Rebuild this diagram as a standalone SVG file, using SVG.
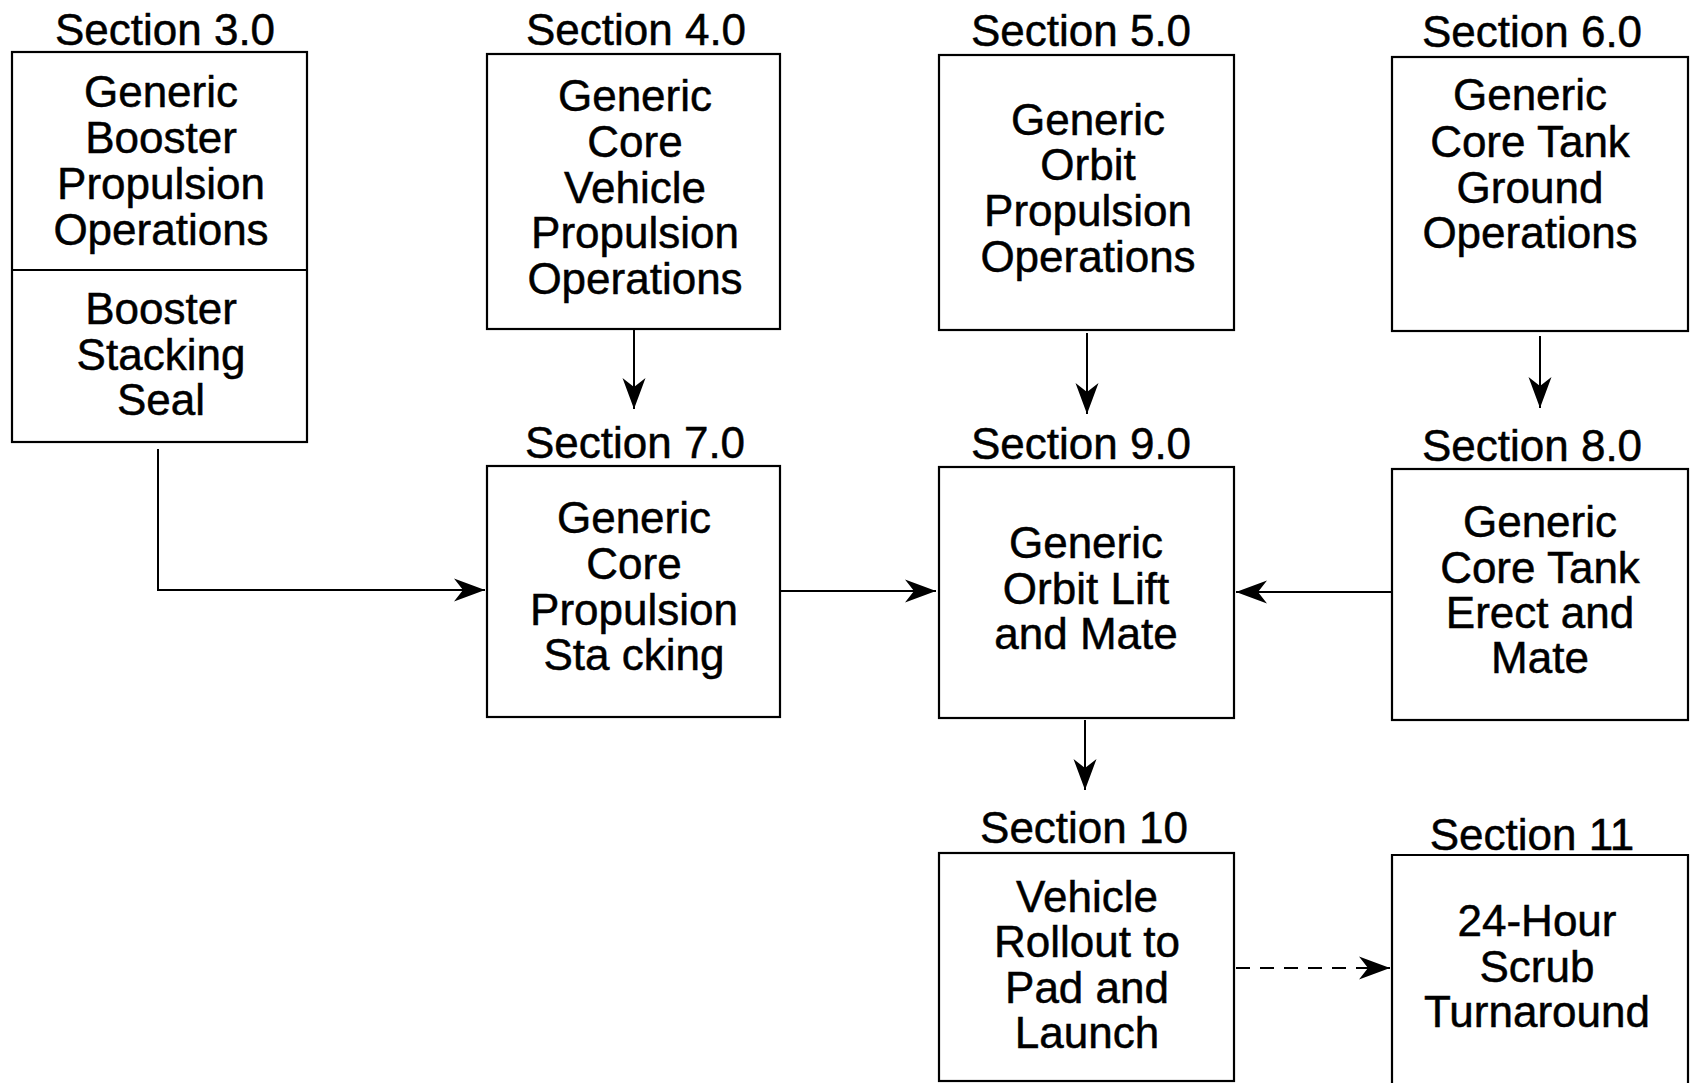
<svg xmlns="http://www.w3.org/2000/svg" width="1690" height="1083" viewBox="0 0 1690 1083">
  <defs>
    <style>
      .box { fill: #fff; stroke: #000; stroke-width: 2.2; }
      .line { fill: none; stroke: #000; stroke-width: 2; }
      .dash { stroke-dasharray: 14 10; }
      text { font-family: "Liberation Sans", Arial, Helvetica, sans-serif; font-size: 44px; fill: #000; stroke: #000; stroke-width: 0.5; text-anchor: middle; }
    </style>
    <marker id="arrow" markerUnits="userSpaceOnUse" markerWidth="34" markerHeight="26" viewBox="-32 -13 34 26" refX="0" refY="0" orient="auto">
      <path d="M0,0 L-31,-11.5 L-22,0 L-31,11.5 Z" fill="#000"/>
    </marker>
  </defs>
  <rect width="1690" height="1083" fill="#fff"/>

  <!-- Section 3.0 -->
  <g id="sec3">
    <text x="165" y="45">Section 3.0</text>
    <rect class="box" x="12" y="52" width="295" height="390"/>
    <line class="line" x1="12" y1="270" x2="307" y2="270"/>
    <text x="161" y="107">Generic</text>
    <text x="161" y="153">Booster</text>
    <text x="161" y="199">Propulsion</text>
    <text x="161" y="245">Operations</text>
    <text x="161" y="324">Booster</text>
    <text x="161" y="370">Stacking</text>
    <text x="161" y="415">Seal</text>
  </g>

  <!-- Section 4.0 -->
  <g id="sec4">
    <text x="636" y="45">Section 4.0</text>
    <rect class="box" x="487" y="54" width="293" height="275"/>
    <text x="635" y="111">Generic</text>
    <text x="635" y="157">Core</text>
    <text x="635" y="203">Vehicle</text>
    <text x="635" y="248">Propulsion</text>
    <text x="635" y="294">Operations</text>
  </g>

  <!-- Section 5.0 -->
  <g id="sec5">
    <text x="1081" y="46">Section 5.0</text>
    <rect class="box" x="939" y="55" width="295" height="275"/>
    <text x="1088" y="135">Generic</text>
    <text x="1088" y="180">Orbit</text>
    <text x="1088" y="226">Propulsion</text>
    <text x="1088" y="272">Operations</text>
  </g>

  <!-- Section 6.0 -->
  <g id="sec6">
    <text x="1532" y="47">Section 6.0</text>
    <rect class="box" x="1392" y="57" width="296" height="274"/>
    <text x="1530" y="110">Generic</text>
    <text x="1530" y="157">Core Tank</text>
    <text x="1530" y="203">Ground</text>
    <text x="1530" y="248">Operations</text>
  </g>

  <!-- Section 7.0 -->
  <g id="sec7">
    <text x="635" y="458">Section 7.0</text>
    <rect class="box" x="487" y="466" width="293" height="251"/>
    <text x="634" y="533">Generic</text>
    <text x="634" y="579">Core</text>
    <text x="634" y="625">Propulsion</text>
    <text x="634" y="670">Sta cking</text>
  </g>

  <!-- Section 9.0 -->
  <g id="sec9">
    <text x="1081" y="459">Section 9.0</text>
    <rect class="box" x="939" y="467" width="295" height="251"/>
    <text x="1086" y="558">Generic</text>
    <text x="1086" y="604">Orbit Lift</text>
    <text x="1086" y="649">and Mate</text>
  </g>

  <!-- Section 8.0 -->
  <g id="sec8">
    <text x="1532" y="461">Section 8.0</text>
    <rect class="box" x="1392" y="469" width="296" height="251"/>
    <text x="1540" y="537">Generic</text>
    <text x="1540" y="583">Core Tank</text>
    <text x="1540" y="628">Erect and</text>
    <text x="1540" y="673">Mate</text>
  </g>

  <!-- Section 10 -->
  <g id="sec10">
    <text x="1084" y="843">Section 10</text>
    <rect class="box" x="939" y="853" width="295" height="228"/>
    <text x="1087" y="912">Vehicle</text>
    <text x="1087" y="957">Rollout to</text>
    <text x="1087" y="1003">Pad and</text>
    <text x="1087" y="1048">Launch</text>
  </g>

  <!-- Section 11 (runs off the lower edge) -->
  <g id="sec11">
    <text x="1532" y="850">Section 11</text>
    <path class="box" d="M1392,1090 L1392,855 L1688,855 L1688,1090"/>
    <text x="1537" y="936">24-Hour</text>
    <text x="1537" y="982">Scrub</text>
    <text x="1537" y="1027">Turnaround</text>
  </g>

  <!-- Connectors -->
  <g id="connectors">
    <polyline class="line" points="158,449 158,590 485,590" marker-end="url(#arrow)"/>
    <line class="line" x1="781" y1="591" x2="936" y2="591" marker-end="url(#arrow)"/>
    <line class="line" x1="1391" y1="592" x2="1236" y2="592" marker-end="url(#arrow)"/>
    <line class="line" x1="634" y1="329" x2="634" y2="409" marker-end="url(#arrow)"/>
    <line class="line" x1="1087" y1="333" x2="1087" y2="414" marker-end="url(#arrow)"/>
    <line class="line" x1="1540" y1="336" x2="1540" y2="408" marker-end="url(#arrow)"/>
    <line class="line" x1="1085" y1="720" x2="1085" y2="790" marker-end="url(#arrow)"/>
    <line class="line dash" x1="1236" y1="968" x2="1390" y2="968" marker-end="url(#arrow)"/>
  </g>
</svg>
